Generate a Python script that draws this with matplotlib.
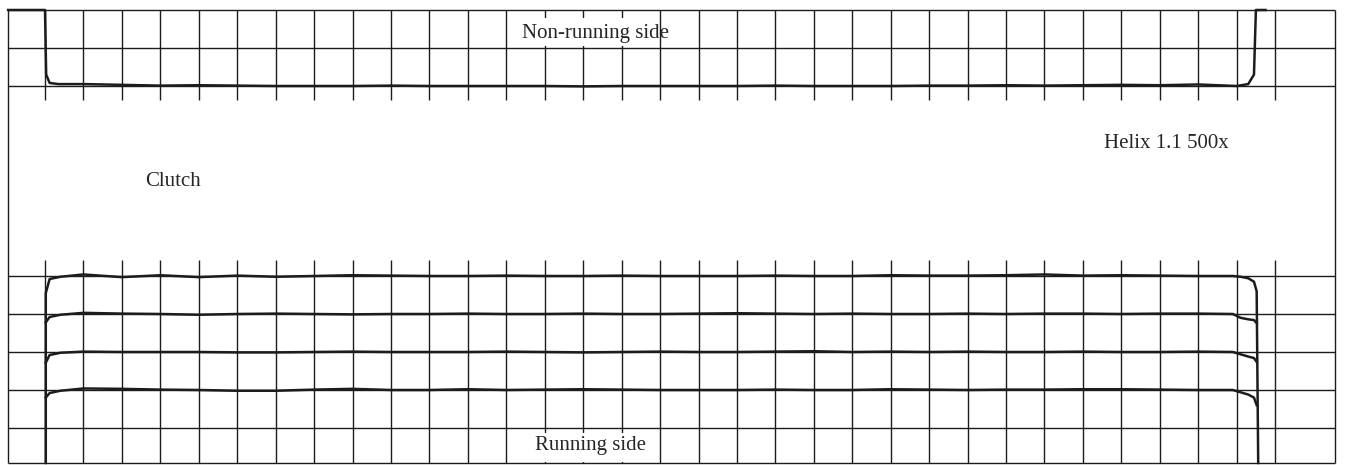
import numpy as np
import matplotlib
matplotlib.use("Agg")
import matplotlib.pyplot as plt
from matplotlib.patches import Rectangle

# grid: one unit = one chart division
cols = np.arange(33)              # vertical division lines
top_rows = [9, 10, 11]            # non-running side band
bot_rows = [0, 1, 2, 3, 4]        # running side band
x_left, x_right = -0.96, 33.56
y_bottom, y_top = -0.92, 11.0

# non-running side trace (sits on row 9), deviations in 1/100 division at each column
nonrun_dev = [0, 5, 3, 1, 2, 1, 0, 0, 0, 1, 0, 0, 0, 0, -1, 0, 0,
              0, 0, 1, 0, 0, 0, 1, 1, 2, 1, 2, 3, 2, 4, 3, 0]

# running side traces, top (row 4) to bottom (row 1)
run_levels = [4, 3, 2, 1]
run_dev = [
    [3, 4, -3, 2, -3, 1, -2, 0, 2, 1, 0, 0, 1, 0, 0, 1, 0,
     0, 0, 1, 0, 0, 2, 1, 1, 2, 4, 1, 2, 1, 0, 2, 0],
    [2, 3, 1, 0, -2, 0, 1, 0, -1, 0, 0, 1, 0, 0, 1, 0, 0,
     1, 2, 1, 0, 1, 0, 0, 1, 0, 1, 1, 0, 1, 1, 0, 0],
    [1, 1, 0, 0, 0, -1, -1, 0, 1, 0, 0, 0, 1, 0, -1, 0, 1,
     0, 0, 1, 2, 0, 1, 0, 1, 0, 0, 1, 0, 0, 1, 0, 0],
    [0, 4, 3, 1, 0, -2, -2, 1, 3, 0, 0, 2, 0, 1, 2, 1, 0,
     0, 0, 1, 0, 0, 2, 1, 0, 1, 1, 2, 2, 1, 0, 1, 0],
]
# start / end shape of each running trace (x offset, y offset in divisions)
run_start = [[0.02, -0.45], [0.02, -0.22], [0.02, -0.28], [0.02, -0.2]]
run_end_x = [30.9, 31.1, 31.3, 31.45, 31.52]
run_end_dy = [
    [0.0, -0.02, -0.06, -0.15, -0.4],
    [0.0, -0.1, -0.14, -0.16, -0.24],
    [0.0, -0.06, -0.12, -0.16, -0.26],
    [0.0, -0.06, -0.12, -0.2, -0.4],
]

ink = "#1c1c1c"
fig = plt.figure(figsize=(13.47, 4.65), dpi=100)
ax = fig.add_axes([0, 0, 1, 1])
ax.set_xlim(-1.171, 33.87)
ax.set_ylim(-0.974, 11.263)
ax.axis("off")

# frame and grid
ax.hlines(top_rows + bot_rows + [y_bottom], x_left, x_right, color=ink, lw=1.0)
ax.vlines([x_left, x_right], y_bottom, y_top, color=ink, lw=1.0)
ax.vlines(cols, top_rows[0] - 0.37, y_top, color=ink, lw=1.0)
ax.vlines(cols, y_bottom, bot_rows[-1] + 0.42, color=ink, lw=1.0)

# non-running side trace
xs = [x_left, 0.0, 0.03, 0.12, 0.35] + list(cols[1:31]) + [31.0, 31.3, 31.45, 31.5, 31.75]
ys = ([y_top, y_top, 9.3, 9.08, 9.05]
      + [9 + d / 100 for d in nonrun_dev[1:31]]
      + [9.0, 9.05, 9.3, y_top, y_top])
ax.plot(xs, ys, color=ink, lw=1.8, solid_joinstyle="round")

# running side traces
for i, lvl in enumerate(run_levels):
    sx, sdy = run_start[i]
    xs = [sx, 0.12, 0.4] + [c for c in cols[1:31]] + run_end_x
    ys = ([lvl + sdy, lvl - 0.08, lvl - 0.02]
          + [lvl + d / 100 for d in run_dev[i][1:31]]
          + [lvl + d for d in run_end_dy[i]])
    if i == 0:
        xs = [sx] + xs + [run_end_x[-1] + 0.04]
        ys = [y_bottom] + ys + [y_bottom]
    ax.plot(xs, ys, color=ink, lw=1.8, solid_joinstyle="round")

# blank label areas on the chart paper
ax.add_patch(Rectangle((12.15, 10.04), 3.75, 0.74, facecolor="white",
                       edgecolor="none", zorder=3))
ax.add_patch(Rectangle((12.15, -0.89), 3.75, 0.76, facecolor="white",
                       edgecolor="none", zorder=3))

font = dict(family=["Liberation Serif", "DejaVu Serif"], fontsize=15,
            color="#262626", zorder=4)
ax.text(14.31, 10.26, "Non-running side", ha="center", va="baseline", **font)
ax.text(29.16, 7.37, "Helix 1.1 500x", ha="center", va="baseline", **font)
ax.text(3.33, 6.37, "Clutch", ha="center", va="baseline", **font)
ax.text(14.2, -0.58, "Running side", ha="center", va="baseline", **font)

fig.savefig("out.png", dpi=100, facecolor="white")
